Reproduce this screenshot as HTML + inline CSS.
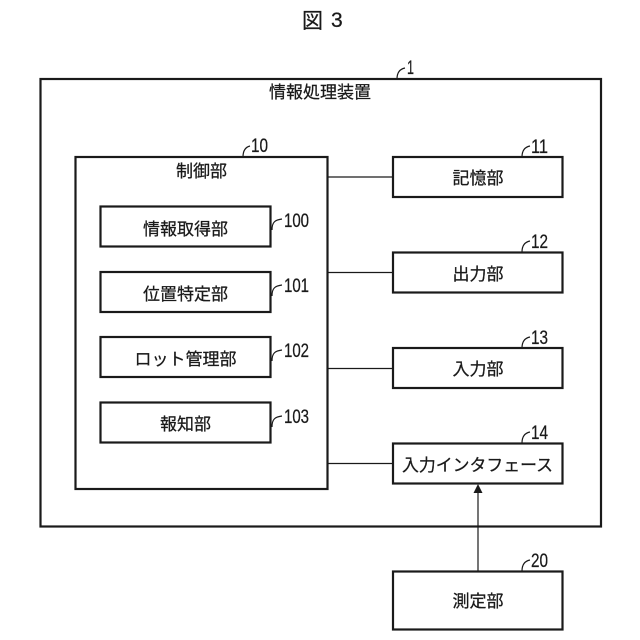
<!DOCTYPE html>
<html><head><meta charset="utf-8"><style>
html,body{margin:0;padding:0;background:#fff}
svg{display:block}
text{font-family:"Liberation Sans","Noto Sans CJK JP",sans-serif;fill:#1a1a1a;stroke:#1a1a1a;stroke-width:.25;font-size:17px}
.c{text-anchor:middle}
rect{fill:none;stroke:#1a1a1a;stroke-width:2.200}
.l{stroke:#1a1a1a;stroke-width:1.200;fill:none}
.n{font-size:19px}
.t{font-size:21px}
</style></head><body>
<svg width="640" height="640" viewBox="0 0 640 640" xmlns="http://www.w3.org/2000/svg">
<rect width="640" height="640" style="fill:#fff;stroke:none"/>
<text x="302" y="28" class="t">図</text>
<text x="331" y="27" class="t">3</text>
<rect x="40.500" y="79" width="560.500" height="447.500"/>
<text x="320" y="98" class="c">情報処理装置</text>
<rect x="75.500" y="157" width="252" height="332"/>
<text x="201.500" y="177" class="c">制御部</text>
<rect x="100.500" y="206.500" width="170" height="40"/>
<text x="185.500" y="235" class="c">情報取得部</text>
<rect x="100.500" y="272" width="170" height="40"/>
<text x="185.500" y="300" class="c">位置特定部</text>
<rect x="100.500" y="337" width="170" height="40"/>
<text x="185.500" y="365" class="c">ロット管理部</text>
<rect x="100.500" y="402.500" width="170" height="40"/>
<text x="185.500" y="430" class="c">報知部</text>
<rect x="393" y="157" width="169.500" height="40"/>
<text x="478" y="184" class="c">記憶部</text>
<rect x="393" y="252.500" width="169.500" height="40"/>
<text x="478" y="280" class="c">出力部</text>
<rect x="393" y="348" width="169.500" height="40"/>
<text x="478" y="375" class="c">入力部</text>
<rect x="393" y="443.500" width="169.500" height="40"/>
<text x="402" y="471" textLength="151" lengthAdjust="spacingAndGlyphs">入力インタフェース</text>
<rect x="393" y="571.500" width="169.500" height="58"/>
<text x="478" y="607" class="c">測定部</text>
<path class="l" d="M328 177H393M328 272.500H393M328 368.500H393M328 463.500H393M478 571V492"/>
<path d="M478 484L473.500 493H482.500Z" fill="#1a1a1a"/>
<path class="l" d="M397 79C397 72 400 69 405 68M522 157C522 150 525 147 530 146M522 252C522 245 525 242 530 241M522 348C522 341 525 338 530 337M522 443C522 436 525 433 530 432M522 571C522 564 525 561 530 560M243 157C243 150 246 147 250 146M272 230C272 222 275 220 282 219M272 296C272 288 275 286 282 285M272 361C272 353 275 351 282 350M272 427C272 419 275 417 282 416"/>
<text x="407" y="74" class="n" textLength="7" lengthAdjust="spacingAndGlyphs">1</text>
<text x="251" y="152" class="n" textLength="17" lengthAdjust="spacingAndGlyphs">10</text>
<text x="531" y="153" class="n" textLength="17" lengthAdjust="spacingAndGlyphs">11</text>
<text x="531" y="248" class="n" textLength="17" lengthAdjust="spacingAndGlyphs">12</text>
<text x="531" y="344" class="n" textLength="17" lengthAdjust="spacingAndGlyphs">13</text>
<text x="531" y="439" class="n" textLength="17" lengthAdjust="spacingAndGlyphs">14</text>
<text x="531" y="567" class="n" textLength="17" lengthAdjust="spacingAndGlyphs">20</text>
<text x="284" y="227" class="n" textLength="25" lengthAdjust="spacingAndGlyphs">100</text>
<text x="284" y="292" class="n" textLength="25" lengthAdjust="spacingAndGlyphs">101</text>
<text x="284" y="357" class="n" textLength="25" lengthAdjust="spacingAndGlyphs">102</text>
<text x="284" y="423" class="n" textLength="25" lengthAdjust="spacingAndGlyphs">103</text>
</svg>
</body></html>
